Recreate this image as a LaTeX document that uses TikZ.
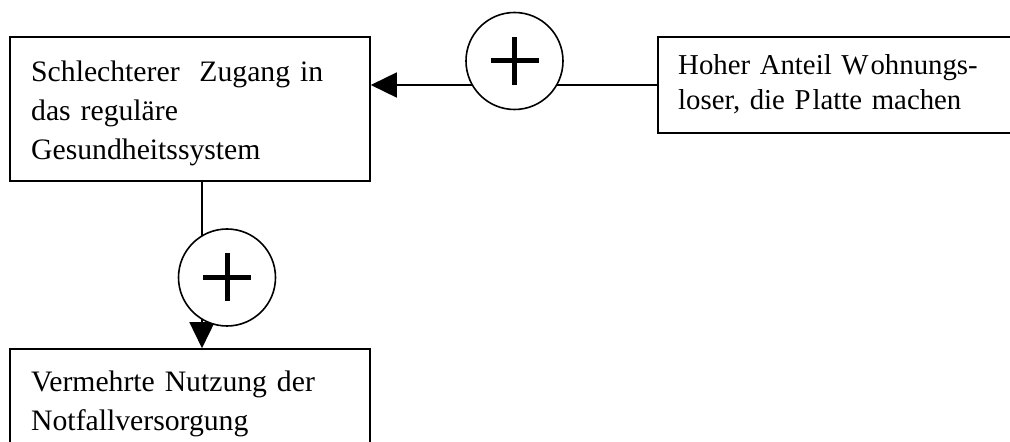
\documentclass[tikz,border=0pt]{standalone}
\usepackage{fontspec}
\setmainfont{Liberation Serif}
\usetikzlibrary{arrows.meta}
\tikzset{
  boxnode/.style={draw, line width=1.6pt, rectangle, inner sep=0pt},
  txt/.style={anchor=base west, inner sep=0pt, align=left, text width=340pt},
  bigfont/.style={font={\fontsize{29.7}{39}\selectfont}},
  midfont/.style={font={\fontsize{28.8}{34.5}\selectfont}},
  sumnode/.style={draw, line width=1.6pt, circle, fill=white, minimum size=97pt, inner sep=0pt},
  conn/.style={line width=1.6pt},
  arr/.style={conn, -{Triangle[length=26pt,width=25pt]}},
  plusbar/.style={line width=5pt}
}
\begin{document}
\begin{tikzpicture}[x=1pt,y=1pt]
\useasboundingbox (0,0) rectangle (1010,442);
\clip (0,0) rectangle (1010,442);
% boxes
\node[boxnode, minimum width=360pt, minimum height=144pt] (b1) at (190,333) {};
\node[boxnode, minimum width=372pt, minimum height=96pt] (b2) at (844,357) {};
\node[boxnode, minimum width=360pt, minimum height=121pt] (b3) at (190,32.5) {};
% texts
\node[txt, bigfont] (t1) at (31,360) {Schlechterer\ \ Zugang in\\[0pt]das reguläre\\[0pt]Gesundheitssystem};
\node[txt, midfont] (t2) at (678,367) {Hoher Anteil W\kern2pt ohnungs-\\[0pt]loser, die P\kern2pt latte machen};
\node[txt, bigfont] (t3) at (31,50) {Vermehrte Nutzung der\\[0pt]Notfallversorgung};
% connectors
\coordinate (v1) at ([xshift=12pt]b1.south);
\draw[arr] (b2.west) -- (b2.west -| b1.east);
\draw[arr] (v1) -- (v1 |- b3.north);
% sum circles
\node[sumnode] (c1) at (514.5,381) {};
\node[sumnode] (c2) at (227,164.5) {};
\draw[plusbar] ([xshift=-24pt]c1.center) -- ([xshift=24pt]c1.center);
\draw[plusbar] ([yshift=-24pt]c1.center) -- ([yshift=24pt]c1.center);
\draw[plusbar] ([xshift=-24pt]c2.center) -- ([xshift=24pt]c2.center);
\draw[plusbar] ([yshift=-24pt]c2.center) -- ([yshift=24pt]c2.center);
\end{tikzpicture}
\end{document}
